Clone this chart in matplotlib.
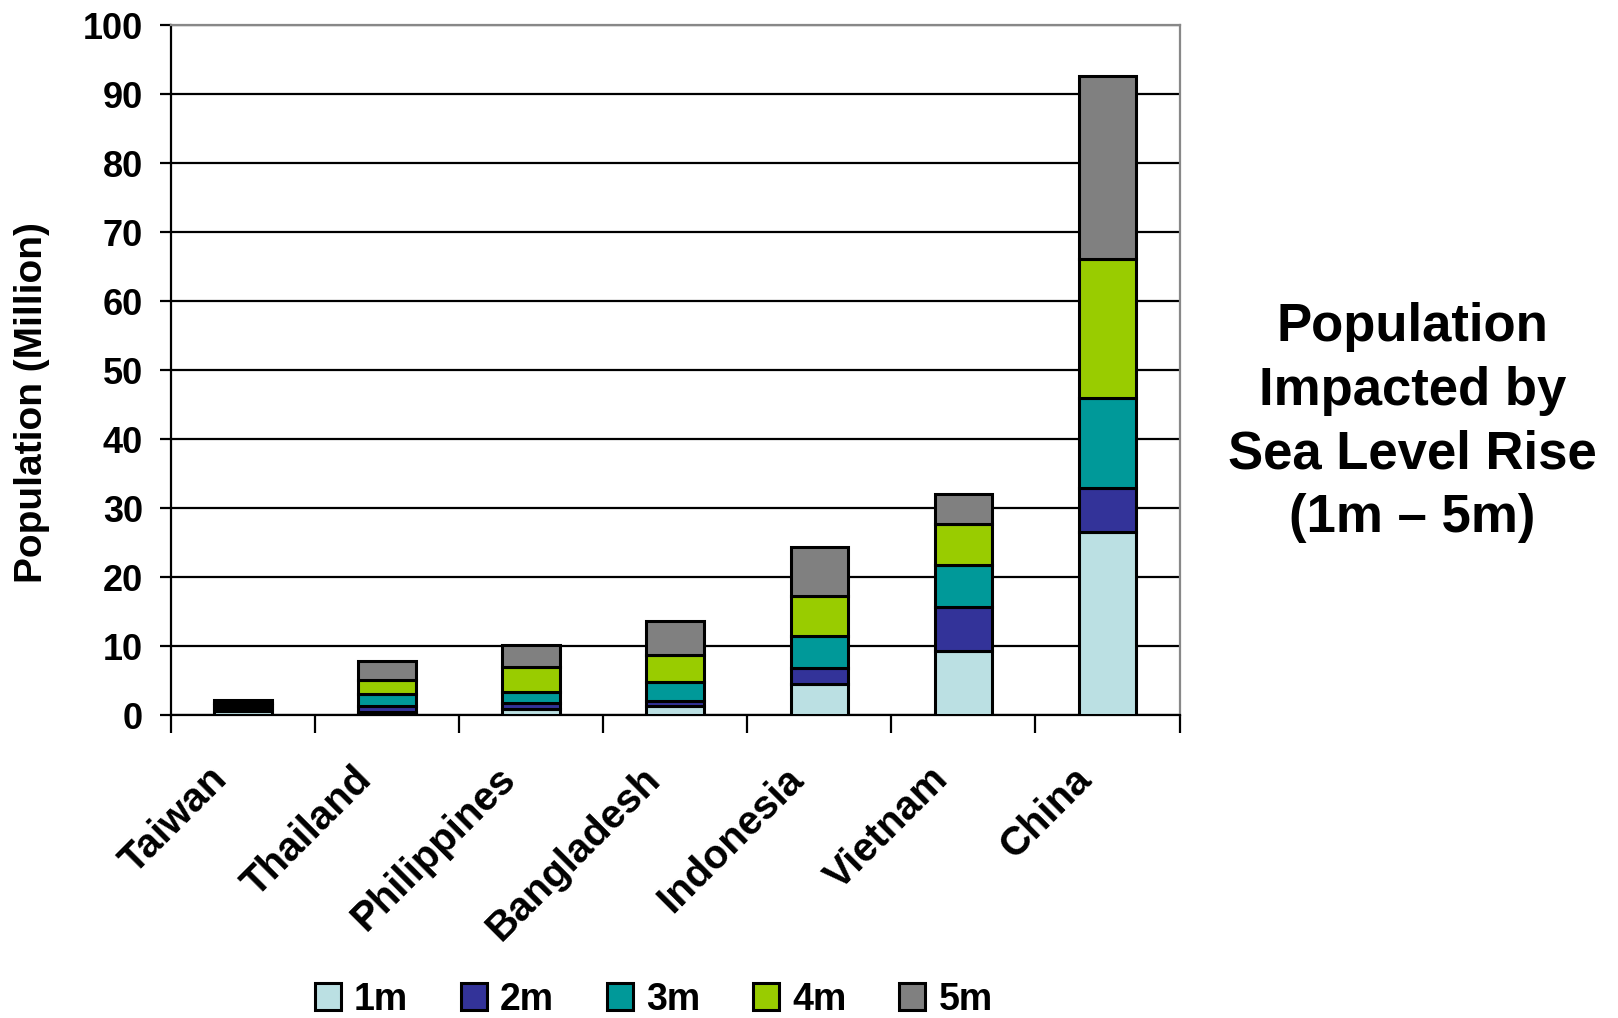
import numpy as np
import matplotlib
matplotlib.use("Agg")
import matplotlib.pyplot as plt
from matplotlib.transforms import ScaledTranslation

plt.rcParams.update({
    "font.family": ["Liberation Sans", "DejaVu Sans"],
    "font.weight": "bold",
})

countries = ["Taiwan", "Thailand", "Philippines", "Bangladesh",
             "Indonesia", "Vietnam", "China"]
levels = ["1m", "2m", "3m", "4m", "5m"]

# population affected (million) by each extra metre of rise
rise_1m = [0.6, 0.4, 0.85, 1.25, 4.5, 9.3, 26.5]
rise_2m = [0.4, 0.9, 0.9, 0.85, 2.3, 6.4, 6.4]
rise_3m = [0.4, 1.7, 1.65, 2.65, 4.6, 6.0, 13.1]
rise_4m = [0.4, 2.15, 3.5, 4.0, 5.9, 6.0, 20.1]
rise_5m = [0.4, 2.75, 3.2, 4.9, 7.0, 4.3, 26.6]

colors = ["#BBE0E3", "#333399", "#009999", "#99CC00", "#808080"]

fig = plt.figure(figsize=(16.18, 10.18), dpi=100)
ax = fig.add_axes([0.1057, 0.2976, 0.6233, 0.6774])

x = np.arange(len(countries))
bottom = np.zeros(len(countries))
for name, vals, col in zip(levels, [rise_1m, rise_2m, rise_3m, rise_4m, rise_5m], colors):
    ax.bar(x, vals, bottom=bottom, width=0.4, color=col, edgecolor="black",
           linewidth=2.2, label=name, zorder=3)
    bottom += np.array(vals)

ax.set_xlim(-0.5, len(countries) - 0.5)
ax.set_ylim(0, 100)
ax.set_yticks(np.arange(0, 101, 10))
ax.yaxis.grid(True, color="black", linewidth=1.6, zorder=0)
ax.tick_params(axis="y", labelsize=26, length=8, width=1.6, pad=12)

# tick marks between categories, labels centred under the bars
ax.set_xticks(np.arange(-0.5, len(countries), 1.0))
ax.set_xticklabels([])
ax.tick_params(axis="x", which="major", length=13, width=1.6)
ax.set_xticks(x, minor=True)
ax.set_xticklabels(countries, minor=True, rotation=45, ha="right",
                   va="top", rotation_mode="anchor", fontsize=29)
ax.tick_params(axis="x", which="minor", length=0, pad=32)
shift = ScaledTranslation(-0.35, 0, fig.dpi_scale_trans)
for lbl in ax.get_xticklabels(minor=True):
    lbl.set_transform(lbl.get_transform() + shift)

for side in ("left", "bottom"):
    ax.spines[side].set_linewidth(1.6)
for side in ("top", "right"):
    ax.spines[side].set_color("#888888")
    ax.spines[side].set_linewidth(1.6)

ax.set_ylabel("Population (Million)", fontsize=28, fontweight="bold")
ax.yaxis.set_label_coords(-0.12, 0.453)

fig.text(0.873, 0.585, "Population\nImpacted by\nSea Level Rise\n(1m \u2013 5m)",
         ha="center", va="center", fontsize=38, linespacing=1.35)

fig.legend(loc="center", bbox_to_anchor=(0.404, 0.018), ncol=5, frameon=False,
           fontsize=27, handlelength=0.7, handleheight=0.7, handletextpad=0.35,
           columnspacing=1.4)

fig.savefig("out.png", dpi=100)
